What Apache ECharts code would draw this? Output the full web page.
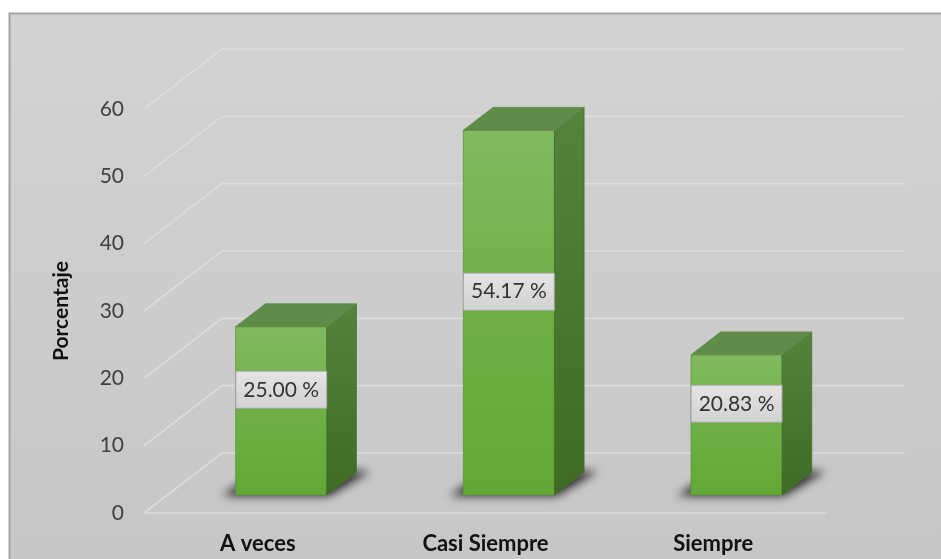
<!DOCTYPE html>
<html>
<head>
<meta charset="utf-8">
<title>Porcentaje</title>
<script src="https://cdn.jsdelivr.net/npm/echarts@6/dist/echarts.min.js"></script>
<style>
  html, body { margin: 0; padding: 0; background: #ffffff; }
  #chart { width: 941px; height: 559px; }
</style>
</head>
<body>
<div id="chart"></div>
<script>
// Survey answers and their share in percent
const categories = ['A veces', 'Casi Siempre', 'Siempre'];
const percentages = [25.00, 54.17, 20.83];
const yTicks = [0, 10, 20, 30, 40, 50, 60];

// Pseudo-3D projection: full floor depth, bar front inset and bar depth
const DEPTH_X = 78, DEPTH_Y = -60;
const FRONT_F = 0.3, BAR_F = 0.38;
// The floor shadow is drawn far off to the left and its blur shifted back,
// so only the soft shadow itself shows
const SHADOW_SHIFT = 3000;

const FONT = 'Lato, "Open Sans", sans-serif';

const chart = echarts.init(document.getElementById('chart'));

function renderGrid(params, api) {
  const v = api.value(1);
  const cs = params.coordSys;
  const y = api.coord([0, v])[1];
  const x0 = cs.x, x1 = cs.x + cs.width;
  const lineStyle = { stroke: '#dcdcdc', lineWidth: 1.6, fill: null };
  const children = [{
    type: 'polyline',
    shape: { points: [[x0, y], [x0 + DEPTH_X, y + DEPTH_Y], [x1 + DEPTH_X, y + DEPTH_Y]] },
    style: lineStyle
  }];
  if (v === 0) {
    children.push({ type: 'line', shape: { x1: x0, y1: y, x2: x1, y2: y }, style: lineStyle });
  }
  return { type: 'group', children };
}

function renderBar(params, api) {
  const i = api.value(0), v = api.value(1);
  const base = api.coord([i, 0]);
  const topPt = api.coord([i, v]);
  const bw = api.size([1, 0])[0] * 0.4;
  const fdx = DEPTH_X * FRONT_F, fdy = DEPTH_Y * FRONT_F;
  const bdx = DEPTH_X * BAR_F, bdy = DEPTH_Y * BAR_F;
  const x0 = base[0] + fdx - bw / 2, x1 = x0 + bw;
  const yb = base[1] + fdy, yt = topPt[1] + fdy;

  const sp = [[x0 - 14, yb + 1], [x1 + 2, yb + 1], [x1 + bdx + 14, yb + bdy - 1], [x0 + bdx - 6, yb + bdy - 1]]
    .map(p => [p[0] - SHADOW_SHIFT, p[1]]);
  const shadow = {
    type: 'polygon',
    shape: { points: sp },
    style: {
      fill: '#000000',
      shadowBlur: 10,
      shadowColor: 'rgba(0,0,0,0.8)',
      shadowOffsetX: SHADOW_SHIFT,
      shadowOffsetY: 0
    }
  };
  const front = {
    type: 'rect',
    shape: { x: x0, y: yt, width: bw, height: yb - yt },
    style: {
      fill: new echarts.graphic.LinearGradient(0, 0, 0, 1, [
        { offset: 0, color: '#80bb5f' },
        { offset: 0.5, color: '#6eb045' },
        { offset: 1, color: '#63a836' }
      ]),
      stroke: 'rgba(90,150,60,0.8)', lineWidth: 1
    }
  };
  const side = {
    type: 'polygon',
    shape: { points: [[x1, yt], [x1 + bdx, yt + bdy], [x1 + bdx, yb + bdy], [x1, yb]] },
    style: {
      fill: new echarts.graphic.LinearGradient(0, 0, 0, 1, [
        { offset: 0, color: '#55833d' },
        { offset: 1, color: '#3f6b24' }
      ]),
      stroke: 'rgba(70,110,45,0.8)', lineWidth: 1
    }
  };
  const top = {
    type: 'polygon',
    shape: { points: [[x0, yt], [x0 + bdx, yt + bdy], [x1 + bdx, yt + bdy], [x1, yt]] },
    style: { fill: '#5f8c48', stroke: 'rgba(95,140,72,0.9)', lineWidth: 1 }
  };
  const label = {
    type: 'text',
    x: x0 + bw / 2,
    y: api.coord([i, v / 2])[1] + fdy - 21,
    style: {
      text: v.toFixed(2) + ' %',
      font: '21px ' + FONT,
      fill: '#333333',
      align: 'center',
      verticalAlign: 'middle',
      backgroundColor: new echarts.graphic.LinearGradient(0, 0, 0, 1, [
        { offset: 0, color: '#e4e4e4' },
        { offset: 1, color: '#d2d2d2' }
      ]),
      borderColor: '#a9a9a9',
      borderWidth: 1,
      padding: [8, 7, 7, 7]
    }
  };
  return { type: 'group', children: [shadow, front, side, top, label] };
}

chart.setOption({
  animation: false,
  graphic: [{
    type: 'rect',
    z: -10,
    silent: true,
    shape: { x: 9.5, y: 13.5, width: 940, height: 560 },
    style: {
      fill: new echarts.graphic.LinearGradient(0, 0, 0, 1, [
        { offset: 0, color: '#d3d3d3' },
        { offset: 1, color: '#c6c6c6' }
      ]),
      stroke: '#a3a3a3',
      lineWidth: 2
    }
  }],
  grid: { left: 144, right: 114, top: 109, bottom: 46 },
  xAxis: {
    type: 'category',
    data: categories,
    axisLine: { show: false },
    axisTick: { show: false },
    axisLabel: { color: '#111111', fontFamily: FONT, fontWeight: 'bold', fontSize: 22, margin: 20 }
  },
  yAxis: {
    type: 'value',
    min: 0,
    max: 60,
    interval: 10,
    name: 'Porcentaje',
    nameLocation: 'middle',
    nameRotate: 90,
    nameGap: 72,
    nameTextStyle: { color: '#111111', fontFamily: FONT, fontWeight: 'bold', fontSize: 21 },
    axisLine: { show: false },
    axisTick: { show: false },
    splitLine: { show: false },
    axisLabel: {
      color: '#404040', fontFamily: FONT, fontSize: 21, margin: 20,
      formatter: v => (yTicks.includes(v) ? String(v) : '')
    }
  },
  series: [
    {
      type: 'custom',
      name: 'grid',
      z: 1,
      silent: true,
      renderItem: renderGrid,
      encode: { x: 0, y: 1 },
      data: yTicks.map(v => [0, v])
    },
    {
      type: 'custom',
      name: 'Porcentaje',
      z: 2,
      renderItem: renderBar,
      encode: { x: 0, y: 1 },
      data: percentages.map((v, i) => [i, v])
    }
  ]
});
</script>
</body>
</html>
